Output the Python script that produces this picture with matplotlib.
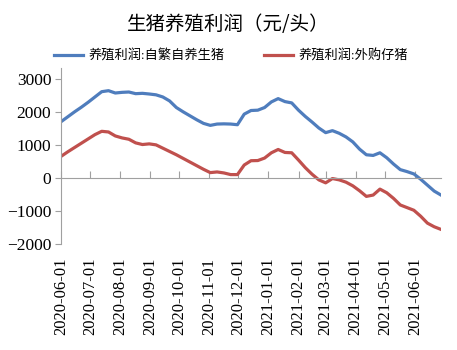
import matplotlib
matplotlib.use("Agg")
from matplotlib import pyplot as plt
import matplotlib.dates as mdates
import pandas as pd

plt.rcParams["font.family"] = ["Liberation Serif", "Noto Sans CJK SC"]

# weekly data, 2020-06-01 .. 2021-06-28
dates = pd.date_range("2020-06-01", periods=57, freq="7D")

self_bred = [1700, 1850, 2000, 2140, 2290, 2450, 2610, 2640, 2570, 2590,
             2600, 2550, 2560, 2540, 2515, 2450, 2330, 2130, 2000, 1880,
             1760, 1650, 1590, 1630, 1636, 1630, 1610, 1930, 2040, 2050,
             2130, 2300, 2400, 2310, 2270, 2050, 1860, 1690, 1510, 1370,
             1430, 1350, 1240, 1090, 870, 700, 680, 760, 610, 420,
             250, 190, 120, -40, -220, -400, -520]

bought_piglet = [650, 790, 920, 1050, 1180, 1310, 1410, 1390, 1270, 1210,
                 1170, 1060, 1010, 1030, 1000, 900, 800, 700, 590, 480,
                 370, 260, 160, 180, 150, 100, 100, 390, 520, 525,
                 600, 760, 860, 770, 760, 540, 310, 110, -60, -150,
                 -20, -60, -130, -240, -390, -560, -520, -340, -450, -620,
                 -820, -900, -980, -1160, -1370, -1480, -1560]

labels = ["养殖利润:自繁自养生猪", "养殖利润:外购仔猪"]
title = "生猪养殖利润（元/头）"
yticks = [-2000, -1000, 0, 1000, 2000, 3000]

cjk = ["Noto Sans CJK SC", "DejaVu Sans"]
grey = "#a0a0a0"

fig = plt.figure(figsize=(4.57, 3.5), dpi=100)
ax = fig.add_axes([0.1335, 0.303, 0.8315, 0.503])

ax.plot(dates, self_bred, color="#4f7dbd", lw=2.3, label=labels[0])
ax.plot(dates, bought_piglet, color="#c0504d", lw=2.3, label=labels[1])

ax.set_ylim(-2000, 3330)
ax.set_xlim(dates[0], dates[-1])
ax.set_yticks(yticks)

for s in ["top", "right"]:
    ax.spines[s].set_visible(False)
ax.spines["left"].set_color(grey)
ax.spines["bottom"].set_position(("data", 0))
ax.spines["bottom"].set_color(grey)

ax.xaxis.set_major_locator(mdates.MonthLocator())
ax.tick_params(axis="x", direction="in", length=5, color=grey, labelbottom=False)
ax.tick_params(axis="y", direction="out", length=4, color=grey, pad=3,
               labelsize=12.5)

# date labels along the bottom edge
sec = ax.secondary_xaxis("bottom")
sec.spines["bottom"].set_visible(False)
sec.xaxis.set_major_locator(mdates.MonthLocator())
sec.xaxis.set_major_formatter(mdates.DateFormatter("%Y-%m-%d"))
sec.tick_params(axis="x", length=0, pad=10, labelrotation=90, labelsize=12)

fig.text(0.499, 0.931, title, ha="center", va="center", fontsize=14,
         family=cjk)
fig.legend(loc="center", bbox_to_anchor=(0.506, 0.84), ncol=2, frameon=False,
           prop={"size": 9.5}, handlelength=2.2,
           columnspacing=3.0, handletextpad=0.4)

fig.savefig("out.png", dpi=100)
